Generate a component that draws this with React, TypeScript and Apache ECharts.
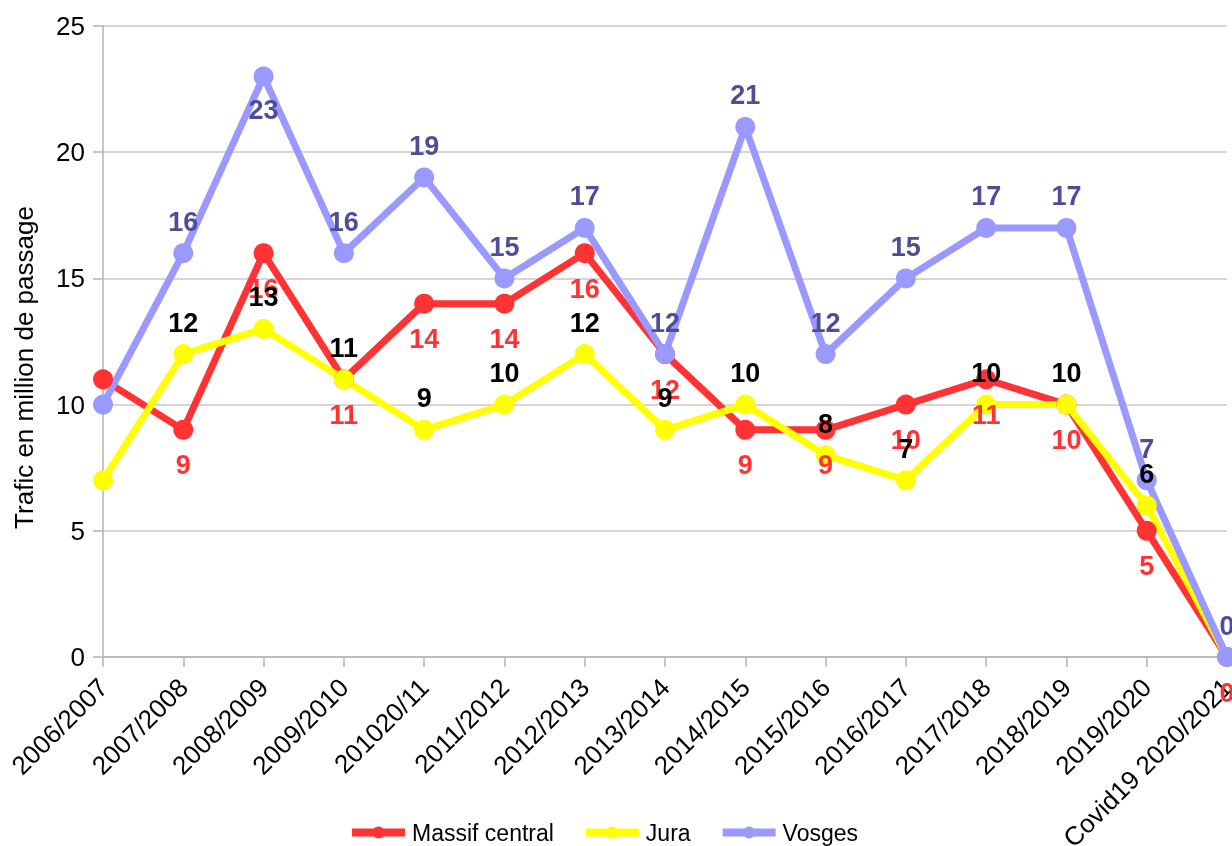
import React, { useEffect, useRef } from "react";
import * as echarts from "echarts";

const categories = [
  "2006/2007", "2007/2008", "2008/2009", "2009/2010", "201020/11", "2011/2012",
  "2012/2013", "2013/2014", "2014/2015", "2015/2016", "2016/2017", "2017/2018",
  "2018/2019", "2019/2020", "Covid19 2020/2021",
];
const massifCentral = [11, 9, 16, 11, 14, 14, 16, 12, 9, 9, 10, 11, 10, 5, 0];
const jura = [7, 12, 13, 11, 9, 10, 12, 9, 10, 8, 7, 10, 10, 6, 0];
const vosges = [10, 16, 23, 16, 19, 15, 17, 12, 21, 12, 15, 17, 17, 7, 0];
const yTicks = { min: 0, max: 25, interval: 5 };

const FONT = "'Liberation Sans', Arial, sans-serif";

function buildData(values: number[], hideIdx: number[], flipIdx: number[], flipLabel: any) {
  return values.map((v, i) => {
    const item: any = { value: v };
    if (hideIdx.includes(i)) item.label = { show: false };
    else if (flipIdx.includes(i)) item.label = flipLabel;
    return item;
  });
}

export default function App() {
  const ref = useRef<HTMLDivElement>(null);
  useEffect(() => {
    if (!ref.current) return;
    const chart = echarts.init(ref.current, undefined, { renderer: "svg" });
    const labelBase = { fontFamily: FONT, fontSize: 27, fontWeight: "bold" as const };
    chart.setOption({
      animation: false,
      textStyle: { fontFamily: FONT },
      grid: { left: 103, right: 5, top: 26, bottom: 189, containLabel: false, outerBoundsMode: "none" },
      legend: {
        top: 816,
        left: 343,
        itemWidth: 53,
        itemHeight: 15,
        itemGap: 28,
        lineStyle: { width: 8 },
        textStyle: { fontFamily: FONT, fontSize: 23, color: "#000", padding: [0, 0, 0, 2] },
        data: ["Massif central", "Jura", "Vosges"],
      },
      xAxis: {
        type: "category",
        boundaryGap: false,
        data: categories,
        axisLine: { lineStyle: { color: "#b3b3b3", width: 1.5 } },
        axisTick: { show: true, length: 10, lineStyle: { color: "#b3b3b3", width: 1.5 } },
        axisLabel: { rotate: 45, fontSize: 26, color: "#000", fontFamily: FONT, margin: 26, interval: 0 },
        splitLine: { show: false },
      },
      yAxis: {
        type: "value",
        min: yTicks.min,
        max: yTicks.max,
        interval: yTicks.interval,
        name: "Trafic en million de passage",
        nameLocation: "middle",
        nameGap: 66,
        nameTextStyle: { fontSize: 26, color: "#000", fontFamily: FONT, padding: [0, 52, 0, 0] },
        axisLine: { show: true, lineStyle: { color: "#b3b3b3", width: 1.5 } },
        axisTick: { show: true, length: 10, lineStyle: { color: "#b3b3b3", width: 1.5 } },
        axisLabel: { fontSize: 26, color: "#000", fontFamily: FONT, margin: 18 },
        splitLine: { lineStyle: { color: "#c8c8c8", width: 1.5 } },
      },
      series: [
        {
          name: "Massif central",
          type: "line",
          data: buildData(massifCentral, [0], [], null),
          symbol: "circle",
          symbolSize: 20,
          itemStyle: { color: "#ff3333" },
          lineStyle: { width: 7, color: "#ff3333" },
          label: { show: true, position: "bottom", distance: 12, color: "#ff3333", ...labelBase },
          z: 2,
        },
        {
          name: "Jura",
          type: "line",
          data: buildData(jura, [0, 14], [], null),
          symbol: "circle",
          symbolSize: 20,
          itemStyle: { color: "#ffff00" },
          lineStyle: { width: 7, color: "#ffff00" },
          label: { show: true, position: "top", distance: 8, color: "#000000", ...labelBase },
          z: 2,
        },
        {
          name: "Vosges",
          type: "line",
          data: buildData(vosges, [0], [2], { position: "bottom", distance: 10 }),
          symbol: "circle",
          symbolSize: 20,
          itemStyle: { color: "#9999ff" },
          lineStyle: { width: 7, color: "#9999ff" },
          label: { show: true, position: "top", distance: 8, color: "#4d4d99", ...labelBase },
          z: 2,
        },
      ],
    });
    return () => chart.dispose();
  }, []);
  return <div ref={ref} style={{ position: "fixed", left: 0, top: 0, width: 1232, height: 846 }} />;
}
